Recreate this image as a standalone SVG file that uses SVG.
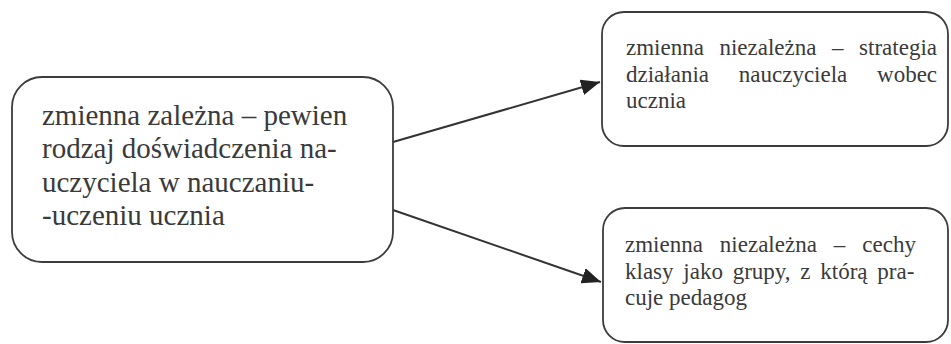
<svg xmlns="http://www.w3.org/2000/svg" width="951" height="344" viewBox="0 0 951 344">
<style>
.box{fill:#ffffff;stroke:#3c3c3c;stroke-width:1.8}
.big{font-family:"Liberation Serif","Times New Roman",serif;font-size:29px;fill:#3a3a3a}
.small{font-family:"Liberation Serif","Times New Roman",serif;font-size:23px;fill:#3a3a3a}
.conn{stroke:#333333;stroke-width:2;fill:none;marker-end:url(#arrow)}
</style>
<defs>
<marker id="arrow" markerUnits="userSpaceOnUse" markerWidth="20" markerHeight="16" refX="19" refY="8" orient="auto">
<path d="M0,0 L19,8 L0,16 z" fill="#222222"/>
</marker>
</defs>
<rect width="951" height="344" fill="#ffffff"/>
<g id="connectors">
<line class="conn" x1="393" y1="142" x2="600" y2="82"/>
<line class="conn" x1="393" y1="210" x2="601" y2="282"/>
</g>
<g id="node-dependent">
<rect class="box" x="12" y="77" width="381" height="185" rx="30" ry="30"/>
<text class="big">
<tspan x="42" y="125">zmienna zależna – pewien</tspan>
<tspan x="42" y="158">rodzaj doświadczenia na-</tspan>
<tspan x="42" y="192">uczyciela w nauczaniu-</tspan>
<tspan x="42" y="225">-uczeniu ucznia</tspan>
</text>
</g>
<g id="node-strategy">
<rect class="box" x="602" y="12" width="346" height="134" rx="22" ry="22"/>
<text class="small">
<tspan x="626" y="55" word-spacing="9.8">zmienna niezależna – strategia</tspan>
<tspan x="626" y="82" word-spacing="24">działania nauczyciela wobec</tspan>
<tspan x="626" y="108">ucznia</tspan>
</text>
</g>
<g id="node-class">
<rect class="box" x="603" y="208" width="345" height="134" rx="22" ry="22"/>
<text class="small">
<tspan x="625" y="252" word-spacing="11.2">zmienna niezależna – cechy</tspan>
<tspan x="625" y="279" word-spacing="4">klasy jako grupy, z którą pra-</tspan>
<tspan x="625" y="305">cuje pedagog</tspan>
</text>
</g>
</svg>
